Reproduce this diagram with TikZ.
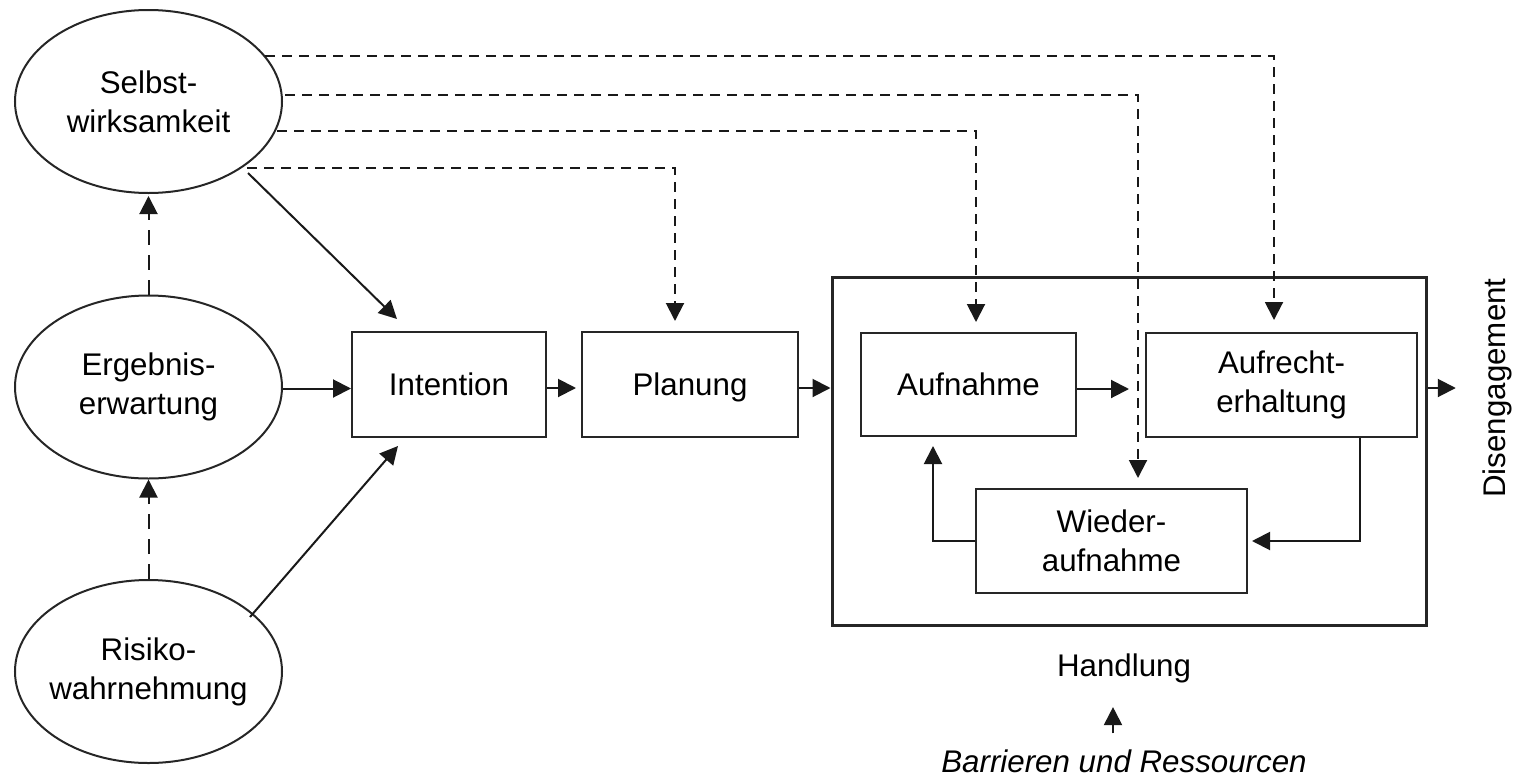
\documentclass[tikz,border=0pt]{standalone}
\usepackage{fontspec}
\setmainfont{Liberation Sans}
\usetikzlibrary{arrows.meta,calc,shapes.geometric}
\begin{document}
\begin{tikzpicture}[x=0.5pt,y=-0.5pt,
  font=\fontsize{15.65pt}{19.5pt}\selectfont,
  oval/.style={ellipse, draw=black!85, line width=1pt, minimum width=133.5pt,
    minimum height=91.5pt, inner sep=0pt},
  stage/.style={rectangle, draw=black!85, line width=1pt, align=center, inner sep=0pt},
  onestage/.style={stage, text height=11.2pt, text depth=0pt},
  arr/.style={line width=1pt, draw=black!90, -{Triangle[length=9pt,width=9pt]}},
  dasharr/.style={arr, dash pattern=on 5pt off 3.5pt},
  longdash/.style={arr, dash pattern=on 7.5pt off 5pt}
]
\useasboundingbox (0,0) rectangle (1515,776);

% social-cognitive predictors
\node[oval, label={[align=center]center:Selbst-\\wirksamkeit}] (S) at (148.5,101.5) {};
\node[oval, label={[align=center]center:Ergebnis-\\erwartung}] (E) at (148.5,387) {};
\node[oval, label={[align=center]center:Risiko-\\wahrnehmung}] (R) at (148.5,671.5) {};

% motivational and volitional stages
\node[onestage, minimum width=97pt, minimum height=52.5pt] (I) at (449,384.5) {Intention};
\node[onestage, minimum width=108pt, minimum height=52.5pt] (P) at (690,384.5) {Planung};
\node[draw=black!85, line width=1.5pt, minimum width=297pt, minimum height=174pt,
  inner sep=0pt] (H) at (1129,451) {};
\node[onestage, minimum width=107.5pt, minimum height=51.5pt] (A) at (968.5,384.5) {Aufnahme};
\node[stage, minimum width=135.5pt, minimum height=52pt] (M) at (1281.5,385) {Aufrecht-\\erhaltung};
\node[stage, minimum width=135.5pt, minimum height=52pt] (W) at (1111.5,541) {Wieder-\\aufnahme};

% labels
\node[anchor=base] (hl) at (1124,676) {Handlung};
\node[anchor=base, font=\fontsize{15.65pt}{19.5pt}\selectfont\itshape] (br) at (1124,772)
  {Barrieren und Ressourcen};
\node[anchor=base, rotate=90] (dis) at (1505,388) {Disengagement};

% influence of self-efficacy on every stage
\draw[dasharr] ($(S)+(116.5,-45.5)$) -| ($(M.north)+(-7.5,-12)$);
\draw[dasharr] ($(S)+(136.5,-6.5)$) -| ($(W.north)+(26.5,-10)$);
\draw[dasharr] ($(S)+(128.5,29.5)$) -| ($(A.north)+(7.5,-10)$);
\draw[dasharr] ($(S)+(98.5,66.5)$) -| ($(P.north)+(-15,-10)$);

% predictors among themselves
\draw[longdash, shorten >=1pt] (E.north) -- (S.south);
\draw[longdash] (R.north) -- (E.south);

% predictors to intention
\draw[arr] ($(S)+(99.5,71.5)$) -- ($(I.north)+(-52,-12)$);
\draw[arr] ($(R)+(101.5,-54.5)$) -- ($(I.south)+(-51,8)$);
\coordinate (ee) at ($(E.east)+(0,1.5)$);
\draw[arr] (ee) -- (ee -| I.west);

% main sequence
\draw[arr] ($(I.east)+(0,3.5)$) -- ($(P.west)+(-5,3.5)$);
\coordinate (pe) at ($(P.east)+(0,3.5)$);
\draw[arr] (pe) -- (pe -| H.west);
\coordinate (ae) at ($(A.east)+(0,4.5)$);
\draw[arr] (ae) -- ($(ae -| M.west)+(-16,0)$);
\draw[arr] (pe -| H.east) -- ($(dis.north)+(-19.5,0)$);

% relapse loop
\draw[arr] (W.west) -| ($(A.south)+(-35.5,9)$);
\draw[arr] ($(M.south)+(78.5,0)$) |- ($(W.east)+(4,0)$);

% barriers and resources
\draw[arr] ($(br.north)+(-11,-9)$) -- ($(hl.south)+(-11,17.5)$);
\end{tikzpicture}
\end{document}
